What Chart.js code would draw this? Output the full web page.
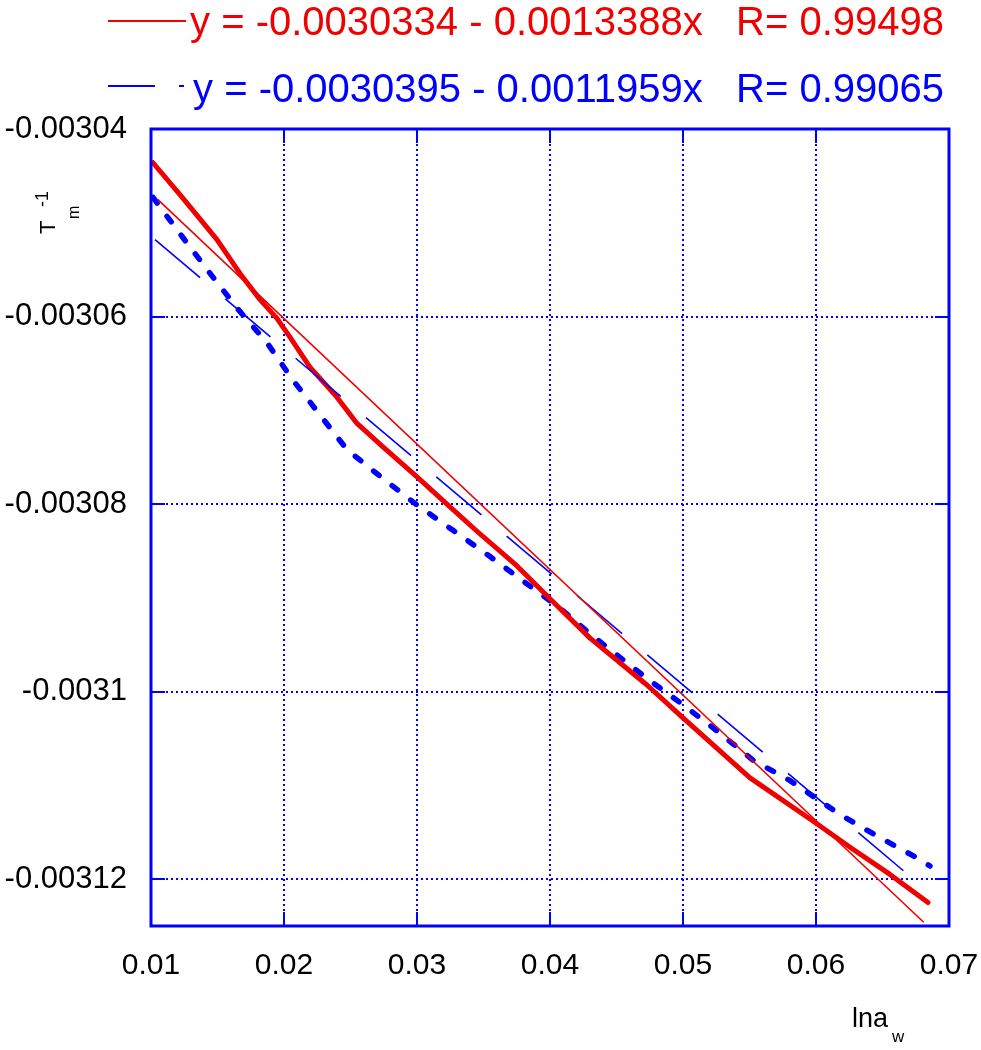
<!DOCTYPE html>
<html><head><meta charset="utf-8">
<script src="https://cdn.jsdelivr.net/npm/chart.js@4.4.0/dist/chart.umd.min.js"></script>
<style>html,body{margin:0;padding:0;background:#fff;}</style>
</head><body>
<canvas id="c" width="981" height="1050"></canvas>
<script>
// ---- axis ranges & ticks ----
const xMin = 0.01, xMax = 0.07;
const yMin = -0.003125, yMax = -0.00304;
const xTickValues = [0.01, 0.02, 0.03, 0.04, 0.05, 0.06, 0.07];
const yTickValues = [-0.00304, -0.00306, -0.00308, -0.0031, -0.00312];

// ---- thick red data curve ----
const redDataX = [0.01015, 0.01241, 0.01496, 0.01669, 0.0182, 0.01947, 0.02045, 0.02195, 0.02398, 0.02549, 0.02744, 0.03, 0.03248, 0.03451, 0.03752, 0.04, 0.04301, 0.04729, 0.05, 0.05504, 0.05977, 0.06256, 0.06556, 0.06842];
const redDataY = [-0.0030436, -0.0030474, -0.0030518, -0.0030554, -0.0030582, -0.0030602, -0.0030622, -0.0030654, -0.0030686, -0.0030714, -0.0030739, -0.0030771, -0.0030803, -0.0030829, -0.0030866, -0.0030901, -0.0030943, -0.0030993, -0.0031028, -0.0031092, -0.0031138, -0.0031166, -0.0031195, -0.0031225];

// ---- thick blue dashed data curve ----
const blueDataX = [0.01015, 0.01241, 0.01444, 0.01647, 0.01872, 0.02068, 0.02271, 0.02474, 0.02737, 0.03, 0.03271, 0.03549, 0.03797, 0.04075, 0.04323, 0.04602, 0.04729, 0.05, 0.05256, 0.05526, 0.05805, 0.0618, 0.06459, 0.06729, 0.06857];
const blueDataY = [-0.0030473, -0.0030516, -0.0030554, -0.0030591, -0.0030628, -0.0030668, -0.0030705, -0.0030742, -0.0030772, -0.0030801, -0.0030828, -0.0030856, -0.0030882, -0.0030911, -0.0030941, -0.0030972, -0.0030986, -0.0031014, -0.0031042, -0.0031073, -0.0031095, -0.0031131, -0.0031154, -0.0031175, -0.0031186];

// ---- fitted lines (end points) ----
const redFitX = [0.0105, 0.0681];
const redFitY = [-0.0030475, -0.0031246];
const blueFitX = [0.0103, 0.0669];
const blueFitY = [-0.0030518, -0.0031195];

// ---- texts ----
const redFitLabel = 'y = -0.0030334 - 0.0013388x   R= 0.99498';
const blueFitLabel = 'y = -0.0030395 - 0.0011959x   R= 0.99065';
const xTitleMain = 'lna', xTitleSub = 'w';
const yTitleMain = 'T', yTitleSub = 'm', yTitleSup = '-1';

const RED = '#f00000';
const BLUE = '#0000ff';
const FONT = '"Liberation Sans", Arial, Helvetica, sans-serif';

const pts = (xs, ys) => xs.map((x, i) => ({x, y: ys[i]}));

const framePlugin = {
  id: 'frame',
  afterDatasetsDraw(chart) {
    const {ctx, chartArea: a, scales: {x, y}} = chart;
    ctx.save();
    ctx.setLineDash([]);
    ctx.strokeStyle = BLUE;
    ctx.lineWidth = 2;
    const tl = 14;
    ctx.beginPath();
    xTickValues.forEach(v => {
      const px = Math.round(x.getPixelForValue(v));
      ctx.moveTo(px, a.bottom); ctx.lineTo(px, a.bottom - tl);
      ctx.moveTo(px, a.top); ctx.lineTo(px, a.top + tl);
    });
    yTickValues.forEach(v => {
      const py = Math.round(y.getPixelForValue(v));
      ctx.moveTo(a.left, py); ctx.lineTo(a.left + tl, py);
      ctx.moveTo(a.right, py); ctx.lineTo(a.right - tl, py);
    });
    ctx.stroke();
    ctx.lineWidth = 3;
    ctx.strokeRect(a.left, a.top, a.right - a.left, a.bottom - a.top);
    ctx.restore();
  },
  afterDraw(chart) {
    const ctx = chart.ctx;
    const ds = chart.data.datasets;
    ctx.save();
    // legend
    const items = [ds[0], ds[1]];
    const rows = [{lineY: 21, base: 35}, {lineY: 86, base: 102}];
    items.forEach((d, i) => {
      ctx.strokeStyle = d.borderColor;
      ctx.lineWidth = 2;
      ctx.setLineDash(i === 0 ? [] : [47, 24]);
      ctx.beginPath();
      ctx.moveTo(108, rows[i].lineY);
      ctx.lineTo(i === 0 ? 186 : 184, rows[i].lineY);
      ctx.stroke();
      ctx.setLineDash([]);
      ctx.fillStyle = d.borderColor;
      ctx.font = '40px ' + FONT;
      ctx.textAlign = 'right';
      ctx.textBaseline = 'alphabetic';
      ctx.fillText(d.label, 944, rows[i].base);
    });
    // x title
    ctx.fillStyle = '#000';
    ctx.textAlign = 'left';
    ctx.font = '27px ' + FONT;
    ctx.fillText(xTitleMain, 852, 1027);
    ctx.font = '17px ' + FONT;
    ctx.fillText(xTitleSub, 892, 1042);
    // y title (rotated)
    ctx.translate(55, 234);
    ctx.rotate(-Math.PI / 2);
    ctx.font = '22px ' + FONT;
    ctx.fillText(yTitleMain, 0, 0);
    ctx.font = '16px ' + FONT;
    ctx.fillText(yTitleSub, 15, 24);
    ctx.font = '18px ' + FONT;
    ctx.fillText(yTitleSup, 27, -7);
    ctx.restore();
  }
};

new Chart(document.getElementById('c'), {
  type: 'line',
  data: {
    datasets: [
      {label: redFitLabel, data: pts(redFitX, redFitY), borderColor: RED, borderWidth: 1.6, pointRadius: 0},
      {label: blueFitLabel, data: pts(blueFitX, blueFitY), borderColor: BLUE, borderWidth: 1.6, pointRadius: 0, borderDash: [59, 33]},
      {label: 'red data', data: pts(redDataX, redDataY), borderColor: RED, borderWidth: 5, pointRadius: 0, borderJoinStyle: 'round', borderCapStyle: 'round'},
      {label: 'blue data', data: pts(blueDataX, blueDataY), borderColor: BLUE, borderWidth: 5.5, pointRadius: 0, borderDash: [7, 16.5], borderCapStyle: 'round'}
    ]
  },
  options: {
    responsive: false,
    animation: false,
    events: [],
    layout: {padding: {top: 129, right: 32, left: 0, bottom: 0}},
    plugins: {legend: {display: false}, tooltip: {enabled: false}},
    elements: {line: {tension: 0, fill: false}},
    scales: {
      x: {
        type: 'linear', min: xMin, max: xMax,
        afterBuildTicks: s => { s.ticks = xTickValues.map(v => ({value: v})); },
        afterFit: s => { s.height = 124; s.paddingLeft = 0; s.paddingRight = 0; },
        ticks: {font: {size: 30, family: FONT}, color: '#000', padding: 22, maxRotation: 0, autoSkip: false,
                callback: v => String(+v.toFixed(2))},
        grid: {color: BLUE, lineWidth: 2, drawTicks: false},
        border: {display: false, dash: [2, 3]}
      },
      y: {
        type: 'linear', min: yMin, max: yMax,
        afterBuildTicks: s => { s.ticks = yTickValues.map(v => ({value: v})); },
        afterFit: s => { s.width = 151; s.paddingTop = 0; s.paddingBottom = 0; },
        ticks: {font: {size: 31, family: FONT}, color: '#000', padding: 24, autoSkip: false,
                callback: v => String(+v.toFixed(5))},
        grid: {color: BLUE, lineWidth: 2, drawTicks: false},
        border: {display: false, dash: [2, 3]}
      }
    }
  },
  plugins: [framePlugin]
});
</script>
</body></html>
